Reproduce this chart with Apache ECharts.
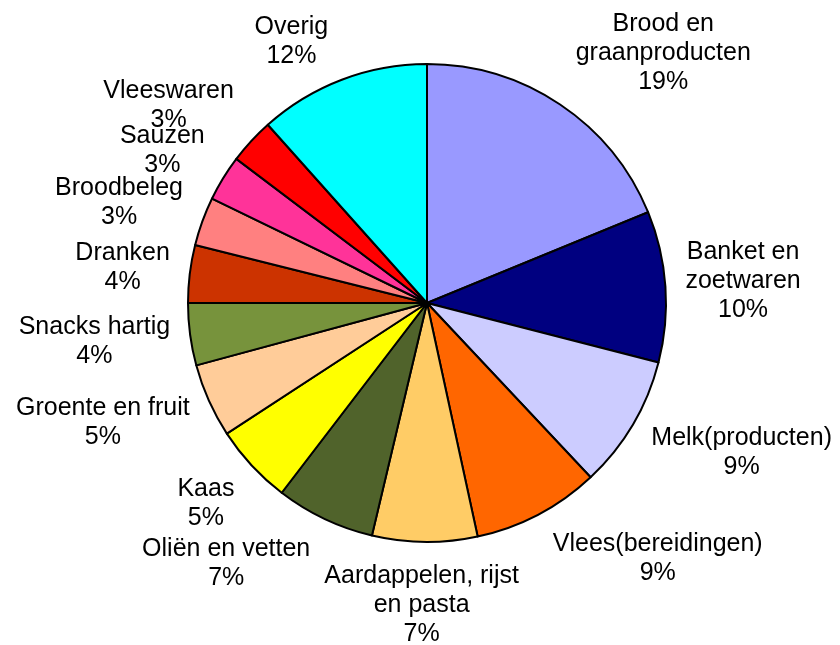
<!DOCTYPE html>
<html lang="nl">
<head>
  <meta charset="UTF-8">
  <title>Voedingsmiddelen</title>
  <style>
    html, body { margin: 0; padding: 0; background: #fff; }
    #chart { width: 840px; height: 645px; }
  </style>
</head>
<body>
  <div id="chart"></div>
  <script src="https://cdn.jsdelivr.net/npm/echarts@6/dist/echarts.min.js"></script>
  <script>
    // categorieen en aandelen (%)
    var categories = [
      'Brood en\ngraanproducten', 'Banket en\nzoetwaren', 'Melk(producten)',
      'Vlees(bereidingen)', 'Aardappelen, rijst\nen pasta', 'Oliën en vetten',
      'Kaas', 'Groente en fruit', 'Snacks hartig', 'Dranken',
      'Broodbeleg', 'Sauzen', 'Vleeswaren', 'Overig'
    ];
    var values = [18.8, 10.2, 9.0, 8.6, 7.1, 6.7, 5.4, 5.0, 4.2, 3.9, 3.3, 3.1, 3.1, 11.6];
    var colors = [
      '#9999ff', '#000080', '#ccccff', '#ff6600', '#ffcc66', '#50632b',
      '#ffff00', '#ffcc99', '#77933c', '#cc3300', '#ff8080', '#ff3399',
      '#ff0000', '#00ffff'
    ];

    var cx = 427, cy = 303, radius = 239, gap = 10;

    var total = 0, cum = [];
    values.forEach(function (v) { cum.push(total); total += v; });

    function clamp(v) { return Math.max(-1, Math.min(1, v)); }

    var chart = echarts.init(document.getElementById('chart'));

    var option = {
      animation: false,
      color: colors,
      series: [{
        type: 'pie',
        center: [cx, cy],
        radius: radius,
        startAngle: 90,
        clockwise: true,
        avoidLabelOverlap: false,
        itemStyle: { borderColor: '#000', borderWidth: 2 },
        emphasis: { disabled: true },
        label: {
          show: true,
          position: 'inside',
          color: '#000',
          fontFamily: '"Liberation Sans", Arial, sans-serif',
          fontSize: 25,
          lineHeight: 29,
          textBorderWidth: 0,
          formatter: function (p) {
            return p.name + '\n' + Math.round(p.percent) + '%';
          }
        },
        labelLine: { show: false },
        // labels buiten de taart, tekstblok tegen de rand
        labelLayout: function (p) {
          var i = p.dataIndex;
          var mid = (cum[i] + values[i] / 2) / total * 2 * Math.PI;
          var ux = Math.sin(mid), uy = -Math.cos(mid);
          var w = p.labelRect.width, h = p.labelRect.height;
          var sx = clamp(3 * ux), sy = clamp(1.5 * uy);
          return {
            x: cx + (radius + gap) * ux + (w / 2 + 10) * sx,
            y: cy + (radius + gap) * uy + h / 2 * sy + 10 * Math.pow(Math.max(0, uy), 4),
            align: 'center',
            verticalAlign: 'middle'
          };
        },
        data: categories.map(function (c, i) {
          return { name: c, value: values[i] };
        })
      }]
    };

    chart.setOption(option);
  </script>
</body>
</html>
